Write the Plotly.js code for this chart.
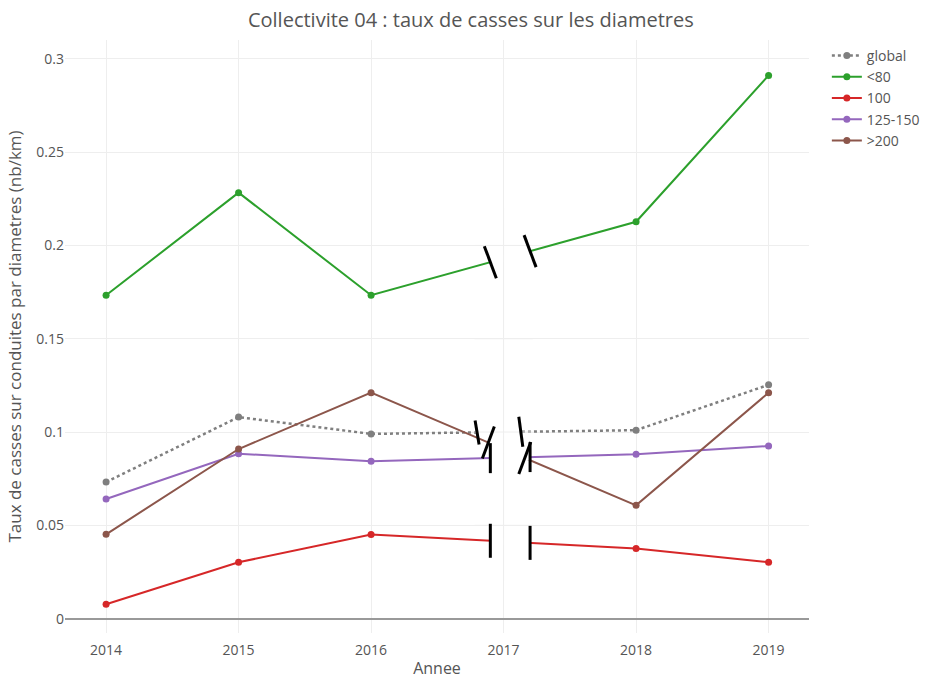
<!DOCTYPE html>
<html>
<head>
<meta charset="utf-8">
<script src="https://cdn.plot.ly/plotly-3.0.1.min.js"></script>
<style>html,body{margin:0;padding:0;background:#fff;}#chart{width:925px;height:679px;}</style>
</head>
<body>
<div id="chart"></div>
<script>
// ---- data ----
const years = [2014, 2015, 2016, 2018, 2019];          // no data for 2017
const tickYears = [2014, 2015, 2016, 2017, 2018, 2019];
const tickLabels = ['2014', '2015', '2016', '2017', '2018', '2019'];
const seriesNames = ['global', '<80', '100', '125-150', '>200'];
const globalRate = [0.0732, 0.1080, 0.0990, 0.1010, 0.1253];
const lt80Rate   = [0.1733, 0.2283, 0.1733, 0.2127, 0.2911];
const d100Rate   = [0.0077, 0.0302, 0.0451, 0.0376, 0.0302];
const d125Rate   = [0.0641, 0.0884, 0.0843, 0.0881, 0.0925];
const gt200Rate  = [0.0452, 0.0909, 0.1211, 0.0607, 0.1211];
const allSeries = [globalRate, lt80Rate, d100Rate, d125Rate, gt200Rate];

// ---- styles ----
const colors = ['#7f7f7f', '#2ca02c', '#d62728', '#9467bd', '#8c564b'];
const dashes = ['dot', 'solid', 'solid', 'solid', 'solid'];
// break positions (x in axis units) and break-mark half vectors (pixels)
const gapLeft  = [2016.80, 2016.90, 2016.90, 2016.90, 2016.885];
const gapRight = [2017.13, 2017.20, 2017.20, 2017.20, 2017.16];
const markL = [[2, -12], [6, -16], [0, -17], [0, -15], [6, 16]];
const markR = [[2, -15], [6, -16], [0, -17], [0, -15], [6, 16]];

const traces = allSeries.map((vals, i) => ({
  x: years, y: vals, name: seriesNames[i], type: 'scatter', mode: 'lines+markers',
  line: {color: colors[i], width: i === 0 ? 2.5 : 2, dash: dashes[i]},
  marker: {color: colors[i], size: 7}
}));

// value on the 2016-2018 segment at a given x (for placing the break marks)
function onSegment(vals, x) {
  const i0 = years.indexOf(2016), i1 = years.indexOf(2018);
  return vals[i0] + (vals[i1] - vals[i0]) * (x - years[i0]) / (years[i1] - years[i0]);
}

const shapes = [];
// white masks over the line between the break marks
allSeries.forEach((vals, i) => {
  shapes.push({type: 'line', layer: 'above', xref: 'x', yref: 'y',
    x0: gapLeft[i], y0: onSegment(vals, gapLeft[i]), x1: gapRight[i], y1: onSegment(vals, gapRight[i]),
    line: {color: '#ffffff', width: 7}});
});
// restore gridlines within the gap
shapes.push({type: 'line', layer: 'above', xref: 'x', yref: 'y', x0: 2017, x1: 2017, y0: 0.02, y1: 0.22,
  line: {color: '#eeeeee', width: 1}});
[0.05, 0.1, 0.15, 0.2].forEach(v => shapes.push({type: 'line', layer: 'above', xref: 'x', yref: 'y',
  x0: 2016.78, x1: 2017.22, y0: v, y1: v, line: {color: '#eeeeee', width: 1}}));
// break marks
allSeries.forEach((vals, i) => {
  [[gapLeft[i], markL[i]], [gapRight[i], markR[i]]].forEach(([gx, m]) => {
    shapes.push({type: 'line', layer: 'above', xref: 'x', yref: 'y',
      xsizemode: 'pixel', ysizemode: 'pixel', xanchor: gx, yanchor: onSegment(vals, gx),
      x0: -m[0], x1: m[0], y0: -m[1], y1: m[1],
      line: {color: '#000000', width: 3}});
  });
});

const layout = {
  width: 925, height: 679,
  margin: {l: 65, r: 116, t: 40, b: 46, autoexpand: false},
  paper_bgcolor: '#ffffff', plot_bgcolor: '#ffffff',
  font: {family: '"Open Sans", sans-serif', color: '#555', size: 14},
  title: {text: 'Collectivite 04 : taux de casses sur les diametres', font: {size: 20, color: '#555'},
    x: 0.509, xanchor: 'center', y: 0.9705, yanchor: 'middle'},
  xaxis: {
    title: {text: 'Annee', font: {size: 16}},
    range: [2013.69, 2019.305], tickvals: tickYears, ticktext: tickLabels,
    showgrid: true, gridcolor: '#eeeeee', zeroline: false, showline: false, ticks: '',
    ticklabelstandoff: 7
  },
  yaxis: {
    title: {text: 'Taux de casses sur conduites par diametres (nb/km)', font: {size: 17}},
    range: [-0.0077, 0.3101], tickvals: [0, 0.05, 0.1, 0.15, 0.2, 0.25, 0.3],
    ticktext: ['0', '0.05', '0.1', '0.15', '0.2', '0.25', '0.3'],
    showgrid: true, gridcolor: '#eeeeee', zeroline: true, zerolinecolor: '#999999', zerolinewidth: 2,
    showline: false, ticks: ''
  },
  legend: {x: 1.024, y: 1, xanchor: 'left', yanchor: 'top', font: {size: 14}},
  shapes: shapes,
  showlegend: true
};

Plotly.newPlot('chart', traces, layout, {displayModeBar: false, staticPlot: true});
</script>
</body>
</html>
